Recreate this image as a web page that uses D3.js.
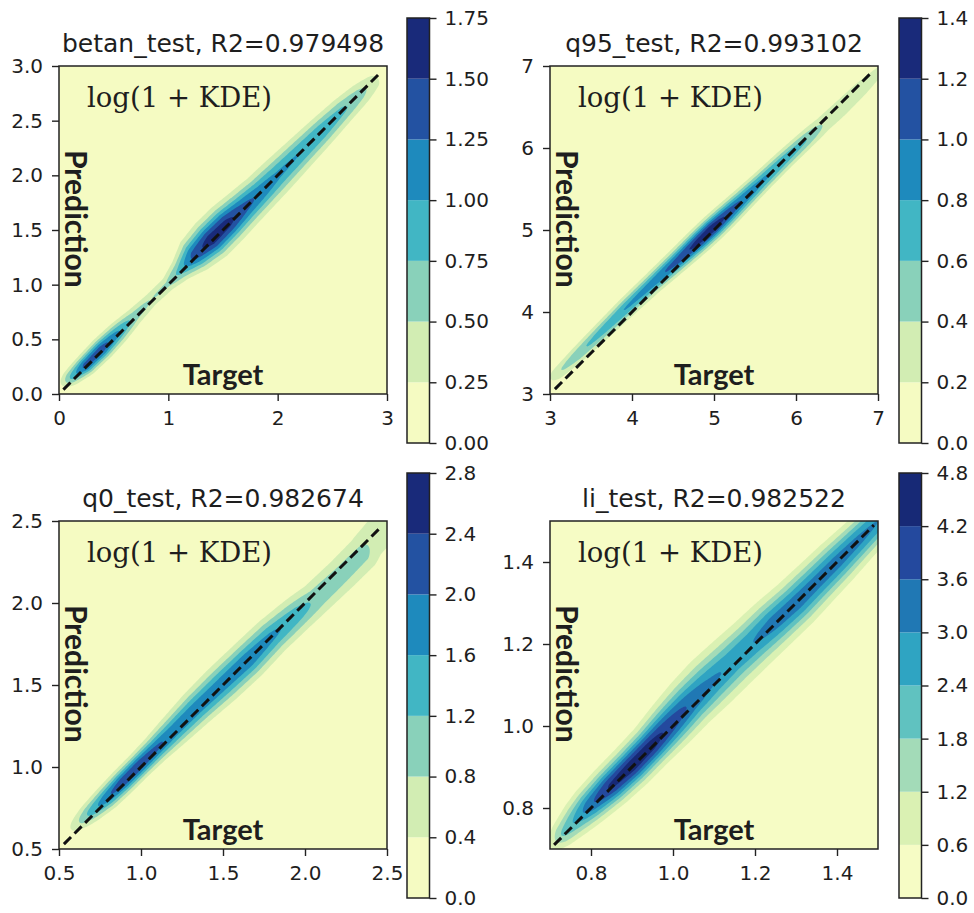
<!DOCTYPE html>
<html>
<head>
<meta charset="utf-8">
<script src="https://cdn.jsdelivr.net/npm/d3@7"></script>
<style>
  body { margin: 0; background: #fff; }
  svg text { fill: #1e1e1e; }
</style>
</head>
<body>
<svg id="fig" width="974" height="913"></svg>
<script>
// ---- Panel metadata ----
const panelNames = ["betan_test", "q95_test", "q0_test", "li_test"];
const r2Values = ["0.979498", "0.993102", "0.982674", "0.982522"];
const axisDomains = [[0, 3], [3, 7], [0.5, 2.5], [0.7, 1.5]];
const xTickValues = [[0, 1, 2, 3], [3, 4, 5, 6, 7], [0.5, 1.0, 1.5, 2.0, 2.5], [0.8, 1.0, 1.2, 1.4]];
const yTickValues = [[0, 0.5, 1, 1.5, 2, 2.5, 3], [3, 4, 5, 6, 7], [0.5, 1.0, 1.5, 2.0, 2.5], [0.8, 1.0, 1.2, 1.4]];
const xTickFormats = ["d", "d", ".1f", ".1f"];
const yTickFormats = [".1f", "d", ".1f", ".1f"];

// Contour levels of log(1 + KDE), also the colorbar ticks
const levelsBetan = [0, 0.25, 0.5, 0.75, 1.0, 1.25, 1.5, 1.75];
const levelsQ95 = [0, 0.2, 0.4, 0.6, 0.8, 1.0, 1.2, 1.4];
const levelsQ0 = [0, 0.4, 0.8, 1.2, 1.6, 2.0, 2.4, 2.8];
const levelsLi = [0, 0.6, 1.2, 1.8, 2.4, 3.0, 3.6, 4.2, 4.8];
const cbarFormats = [".2f", ".1f", ".1f", ".1f"];

// Extent of the y = x reference line (range of the targets)
const diagRanges = [[0.04, 2.95], [3.06, 6.94], [0.53, 2.47], [0.71, 1.49]];

// ---- Density ridge along the diagonal: position t (target), peak of log(1+KDE),
//      vertical spread (sigma) and offset of prediction above target ----
const betanT      = [0.02, 0.12, 0.25, 0.40, 0.55, 0.70, 0.85, 1.00, 1.12, 1.25, 1.40, 1.55, 1.70, 1.85, 2.00, 2.20, 2.40, 2.60, 2.75, 2.88, 2.96];
const betanPeak   = [0.00, 0.75, 1.35, 1.40, 1.05, 0.65, 0.50, 0.55, 0.85, 1.35, 1.65, 1.60, 1.35, 1.18, 1.05, 1.00, 0.95, 0.80, 0.60, 0.35, 0.00];
const betanSigma  = [0.06, 0.072, 0.08, 0.085, 0.085, 0.078, 0.072, 0.072, 0.095, 0.135, 0.15, 0.15, 0.145, 0.14, 0.14, 0.13, 0.12, 0.11, 0.105, 0.095, 0.07];
const betanOffset = [0.06, 0.04, 0.02, 0.02, 0.02, 0.02, 0.02, 0.01, 0.02, 0.03, 0.02, 0.02, 0.01, 0.00, 0.00, 0.00, 0.00, 0.00, -0.01, -0.02, -0.02];

const q95T      = [3.02, 3.15, 3.40, 3.70, 4.00, 4.30, 4.60, 4.85, 5.00, 5.15, 5.35, 5.60, 5.85, 6.10, 6.30, 6.50, 6.75, 6.97];
const q95Peak   = [0.00, 0.35, 0.55, 0.70, 0.82, 0.92, 1.10, 1.30, 1.36, 1.20, 1.00, 0.85, 0.75, 0.62, 0.40, 0.36, 0.32, 0.25];
const q95Sigma  = [0.07, 0.085, 0.095, 0.10, 0.105, 0.108, 0.115, 0.12, 0.12, 0.12, 0.115, 0.108, 0.105, 0.105, 0.115, 0.125, 0.125, 0.115];
const q95Offset = [0.18, 0.16, 0.14, 0.13, 0.12, 0.10, 0.07, 0.05, 0.04, 0.03, 0.02, 0.01, 0.00, -0.02, -0.04, -0.06, -0.07, -0.08];

const q0T      = [0.55, 0.62, 0.70, 0.80, 0.90, 1.00, 1.10, 1.20, 1.35, 1.50, 1.65, 1.80, 1.95, 2.05, 2.20, 2.33, 2.38, 2.45, 2.52];
const q0Peak   = [0.00, 0.60, 1.30, 1.90, 2.30, 2.35, 2.10, 1.90, 1.85, 1.85, 1.90, 1.70, 1.40, 1.10, 1.00, 0.95, 0.75, 0.70, 0.65];
const q0Sigma  = [0.045, 0.052, 0.058, 0.063, 0.063, 0.063, 0.069, 0.08, 0.092, 0.10, 0.10, 0.098, 0.098, 0.10, 0.105, 0.11, 0.12, 0.13, 0.13];
const q0Offset = [0.05, 0.04, 0.03, 0.02, 0.02, 0.02, 0.02, 0.02, 0.02, 0.01, 0.00, 0.00, -0.02, -0.04, -0.05, -0.05, -0.03, -0.02, 0.00];

const liT      = [0.69, 0.73, 0.77, 0.80, 0.85, 0.90, 0.95, 1.00, 1.05, 1.10, 1.15, 1.20, 1.25, 1.30, 1.35, 1.40, 1.45, 1.50];
const liPeak   = [0.00, 1.80, 2.60, 3.40, 4.30, 4.60, 4.50, 4.00, 3.50, 3.10, 2.90, 3.00, 3.30, 3.35, 3.30, 3.30, 3.20, 3.00];
const liSigma  = [0.023, 0.029, 0.035, 0.037, 0.039, 0.04, 0.041, 0.046, 0.05, 0.054, 0.054, 0.052, 0.05, 0.048, 0.046, 0.044, 0.041, 0.039];
const liOffset = [0.00, 0.005, 0.008, 0.008, 0.005, 0.003, 0.005, 0.01, 0.015, 0.015, 0.012, 0.008, 0.005, 0.00, 0.00, 0.00, 0.00, 0.00];

const ridges = [
  { t: betanT, peak: betanPeak, sigma: betanSigma, offset: betanOffset, levels: levelsBetan },
  { t: q95T,   peak: q95Peak,   sigma: q95Sigma,   offset: q95Offset,   levels: levelsQ95 },
  { t: q0T,    peak: q0Peak,    sigma: q0Sigma,    offset: q0Offset,    levels: levelsQ0 },
  { t: liT,    peak: liPeak,    sigma: liSigma,    offset: liOffset,    levels: levelsLi }
];

// ---- Layout ----
const plotSize = 328;
const plotOrigins = [[59, 66], [550, 66], [59, 521], [550, 521]];
const cbarOrigins = [[407, 18], [899, 18], [407, 473], [899, 473]];
const cbarW = 22.5, cbarH = 425;
const gridN = 180;

// YlGnBu (ColorBrewer 9-class), linearly interpolated
const ylgnbu = ["#ffffd9", "#edf8b1", "#c7e9b4", "#7fcdbb", "#41b6c4", "#1d91c0", "#225ea8", "#253494", "#081d58"];
const cmap = d3.scaleLinear().domain(d3.range(9).map(i => i / 8)).range(ylgnbu).interpolate(d3.interpolateRgb);

const svg = d3.select("#fig");

panelNames.forEach((name, k) => {
  const [d0, d1] = axisDomains[k];
  const [left, top] = plotOrigins[k];
  const ridge = ridges[k];
  const levels = ridge.levels;
  const nBands = levels.length - 1;
  const bandColor = b => cmap((b + 0.5) / nBands);

  const x = d3.scaleLinear().domain([d0, d1]).range([left, left + plotSize]);
  const y = d3.scaleLinear().domain([d0, d1]).range([top + plotSize, top]);

  const g = svg.append("g");
  const clipId = "clip" + k;
  svg.append("clipPath").attr("id", clipId)
    .append("rect").attr("x", left).attr("y", top).attr("width", plotSize).attr("height", plotSize);

  // Density field on a grid (row 0 at the top)
  const peakAt = d3.scaleLinear().domain(ridge.t).range(ridge.peak).clamp(true);
  const sigmaAt = d3.scaleLinear().domain(ridge.t).range(ridge.sigma).clamp(true);
  const offsetAt = d3.scaleLinear().domain(ridge.t).range(ridge.offset).clamp(true);
  const values = new Float64Array(gridN * gridN);
  for (let j = 0; j < gridN; j++) {
    const yv = d1 - (j + 0.5) / gridN * (d1 - d0);
    for (let i = 0; i < gridN; i++) {
      const xv = d0 + (i + 0.5) / gridN * (d1 - d0);
      const u = (xv + yv) / 2, v = yv - xv;
      const z = (v - offsetAt(u)) / sigmaAt(u);
      values[j * gridN + i] = peakAt(u) * Math.exp(-0.5 * z * z);
    }
  }

  const gridToScreen = d3.geoTransform({
    point: function (gx, gy) {
      this.stream.point(x(d0 + gx / gridN * (d1 - d0)), y(d1 - gy / gridN * (d1 - d0)));
    }
  });
  const path = d3.geoPath(gridToScreen);

  const plot = g.append("g").attr("clip-path", `url(#${clipId})`);
  plot.append("rect").attr("x", left).attr("y", top).attr("width", plotSize).attr("height", plotSize)
    .attr("fill", bandColor(0));

  const contours = d3.contours().size([gridN, gridN]).thresholds(levels.slice(1, nBands))(values);
  plot.selectAll("path.band").data(contours).join("path")
    .attr("class", "band")
    .attr("d", path)
    .attr("fill", (c, i) => bandColor(i + 1));

  // y = x reference
  const diag = diagRanges[k];
  plot.append("path")
    .attr("d", d3.line().x(d => x(d)).y(d => y(d))(diag))
    .attr("fill", "none").attr("stroke", "#111").attr("stroke-width", 3)
    .attr("stroke-dasharray", "10,5");

  // Axes
  const xAxis = d3.axisBottom(x).tickValues(xTickValues[k]).tickFormat(d3.format(xTickFormats[k]))
    .tickSize(7).tickPadding(10);
  const yAxis = d3.axisLeft(y).tickValues(yTickValues[k]).tickFormat(d3.format(yTickFormats[k]))
    .tickSize(7).tickPadding(9);
  [g.append("g").attr("transform", `translate(0,${top + plotSize})`).call(xAxis),
   g.append("g").attr("transform", `translate(${left},0)`).call(yAxis)].forEach(ax => {
    ax.select(".domain").remove();
    ax.selectAll("line").attr("stroke", "#222").attr("stroke-width", 1.4);
    ax.selectAll("text").attr("font-family", "DejaVu Sans").attr("font-size", 20).attr("fill", "#262626");
  });

  g.append("rect").attr("x", left).attr("y", top).attr("width", plotSize).attr("height", plotSize)
    .attr("fill", "none").attr("stroke", "#222").attr("stroke-width", 1.5);

  // Title and in-plot labels
  g.append("text").attr("x", left + plotSize / 2).attr("y", top - 14)
    .attr("text-anchor", "middle").attr("font-family", "DejaVu Sans").attr("font-size", 25)
    .text(`${name}, R2=${r2Values[k]}`);
  g.append("text").attr("x", left + 28).attr("y", top + 41)
    .attr("font-family", "DejaVu Serif").attr("font-size", 27.5)
    .text("log(1 + KDE)");
  g.append("text").attr("x", left + plotSize / 2).attr("y", top + plotSize - 9)
    .attr("text-anchor", "middle").attr("font-family", "Lato").attr("font-weight", "bold").attr("font-size", 29)
    .attr("fill", "#000").text("Target");
  g.append("text")
    .attr("transform", `translate(${left + 6},${top + 84}) rotate(90)`)
    .attr("font-family", "Lato").attr("font-weight", "bold").attr("font-size", 30)
    .attr("fill", "#000").text("Prediction");

  // Colorbar
  const [cx, cy] = cbarOrigins[k];
  const cScale = d3.scaleLinear().domain([levels[0], levels[nBands]]).range([cy + cbarH, cy]);
  const cb = svg.append("g");
  cb.selectAll("rect.cband").data(d3.range(nBands)).join("rect")
    .attr("class", "cband")
    .attr("x", cx).attr("width", cbarW)
    .attr("y", b => cScale(levels[b + 1]))
    .attr("height", b => cScale(levels[b]) - cScale(levels[b + 1]))
    .attr("fill", b => bandColor(b));
  cb.append("rect").attr("x", cx).attr("y", cy).attr("width", cbarW).attr("height", cbarH)
    .attr("fill", "none").attr("stroke", "#222").attr("stroke-width", 1.5);
  const cAxis = cb.append("g").attr("transform", `translate(${cx + cbarW},0)`)
    .call(d3.axisRight(cScale).tickValues(levels).tickFormat(d3.format(cbarFormats[k])).tickSize(7).tickPadding(8));
  cAxis.select(".domain").remove();
  cAxis.selectAll("line").attr("stroke", "#222").attr("stroke-width", 1.4);
  cAxis.selectAll("text").attr("font-family", "DejaVu Sans").attr("font-size", 20).attr("fill", "#262626");
});
</script>
</body>
</html>
